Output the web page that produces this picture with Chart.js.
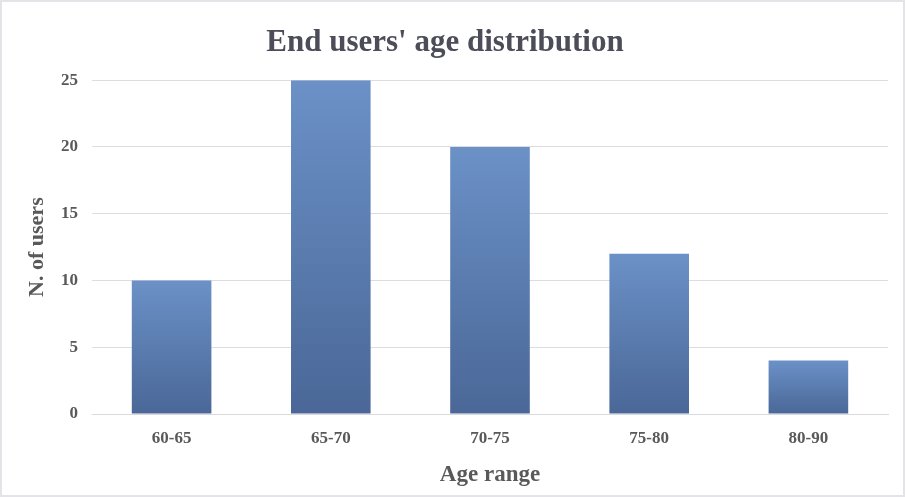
<!DOCTYPE html>
<html>
<head>
<meta charset="utf-8">
<script src="https://cdn.jsdelivr.net/npm/chart.js@4/dist/chart.umd.min.js"></script>
<style>
  html, body { margin: 0; padding: 0; background: #ffffff; }
  #wrap { position: relative; width: 905px; height: 497px; box-sizing: border-box; border: 2px solid #e4e4e8; }
  canvas { display: block; }
</style>
</head>
<body>
<div id="wrap"><canvas id="chart" width="901" height="493"></canvas></div>
<script>
// Age ranges and the number of end users in each
const ageRanges = ['60-65', '65-70', '70-75', '75-80', '80-90'];
const userCounts = [10, 25, 20, 12, 4];
const yTicks = [0, 5, 10, 15, 20, 25];

const textColor = '#595959';
const serif = "'Liberation Serif', 'Times New Roman', serif";

// Each bar fades from a lighter blue at its top to a deeper blue at its base
function barGradient(ctx) {
  const chart = ctx.chart;
  const y = chart.scales.y;
  if (!y || ctx.dataIndex == null) return '#5b7fb5';
  const top = y.getPixelForValue(ctx.raw);
  const base = y.getPixelForValue(0);
  if (!isFinite(top) || !isFinite(base) || top === base) return '#5b7fb5';
  const g = chart.ctx.createLinearGradient(0, top, 0, base);
  g.addColorStop(0, '#6b91c7');
  g.addColorStop(1, '#4a6797');
  return g;
}

new Chart(document.getElementById('chart'), {
  type: 'bar',
  data: {
    labels: ageRanges,
    datasets: [{
      data: userCounts,
      backgroundColor: barGradient,
      borderWidth: 0,
      categoryPercentage: 1.0,
      barPercentage: 0.5
    }]
  },
  options: {
    responsive: false,
    animation: false,
    layout: { padding: { top: 14, right: 15, bottom: 0, left: 0 } },
    plugins: {
      legend: { display: false },
      tooltip: { enabled: false },
      title: {
        display: true,
        text: "End users' age distribution",
        color: '#4d4d59',
        font: { family: serif, size: 31, weight: 'bold' },
        padding: { top: 8, bottom: 19 }
      }
    },
    scales: {
      x: {
        grid: { display: false, drawTicks: false },
        border: { display: true, color: '#d9d9e0', width: 1 },
        ticks: { color: textColor, font: { family: serif, size: 17, weight: 'bold' }, padding: 14 },
        title: {
          display: true,
          text: 'Age range',
          color: textColor,
          font: { family: serif, size: 23, weight: 'bold' },
          padding: { top: 8, bottom: 6 }
        },
        afterFit: s => { s.height = 81; }
      },
      y: {
        min: 0,
        max: 25,
        afterBuildTicks: s => { s.ticks = yTicks.map(v => ({ value: v })); },
        grid: { color: '#dcdce2', lineWidth: 1, drawTicks: false },
        border: { display: false },
        ticks: { color: textColor, font: { family: serif, size: 17, weight: 'bold' }, padding: 14 },
        title: {
          display: true,
          text: 'N. of users',
          color: textColor,
          font: { family: serif, size: 22, weight: 'bold' },
          padding: { top: 22, bottom: 0 }
        },
        afterFit: s => { s.width = 90; }
      }
    }
  }
});
</script>
</body>
</html>
